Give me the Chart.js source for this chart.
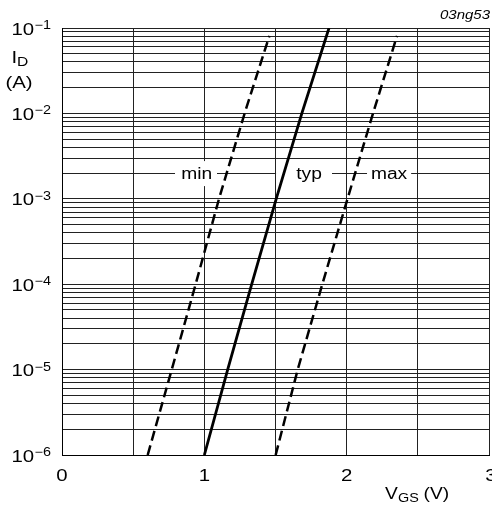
<!DOCTYPE html>
<html lang="en">
<head>
  <meta charset="UTF-8">
  <title>ID vs VGS</title>
  <script src="https://cdn.jsdelivr.net/npm/chart.js"></script>
  <style>
    html, body { margin: 0; padding: 0; background: #fff; }
    #wrap { width: 492px; height: 506px; position: relative; }
  </style>
</head>
<body>
  <div id="wrap"><canvas id="chart"></canvas></div>

  <script>
    // drain current, one point per decade (A)
    const idTyp = [1e-6, 1e-5, 1e-4, 1e-3, 1e-2, 1e-1];
    const idMinMax = [1e-6, 1e-5, 1e-4, 1e-3, 1e-2, 0.081];
    // gate-source voltage at those currents (V)
    const vgsMin = [0.602, 0.771, 0.939, 1.103, 1.283, 1.457];
    const vgsTyp = [1.0, 1.164, 1.333, 1.505, 1.685, 1.876];
    const vgsMax = [1.501, 1.656, 1.829, 2.006, 2.185, 2.354];

    const xTickLabels = [0, 1, 2, 3];
    const xGridStep = 0.5;
    const yExponents = [-6, -5, -4, -3, -2, -1];
    const curveNames = ['min', 'typ', 'max'];

    const FONT = 'Arial, "Liberation Sans", sans-serif';
    const SX = 1.2; // the original lettering is a bit wide

    function pts(xs, ys) {
      return xs.map((x, i) => ({ x: x, y: ys[i] }));
    }

    // grid: 1..9 per decade
    const yGrid = [];
    yExponents.forEach(e => {
      for (let m = 1; m <= 9; m++) {
        if (e === yExponents[yExponents.length - 1] && m > 1) break;
        yGrid.push(m * Math.pow(10, e));
      }
    });

    // curve labels sit on the 2e-3 line, boxes given in volts
    const curveLabels = [
      { text: curveNames[0], x: 0.947, from: 0.794, to: 1.089 },
      { text: curveNames[1], x: 1.736, from: 1.504, to: 1.897 },
      { text: curveNames[2], x: 2.298, from: 2.143, to: 2.453 }
    ];
    const labelY = 2e-3;

    function txt(ctx, s, x, y, size, align, style, sx) {
      ctx.save();
      ctx.font = (style || '') + ' ' + size + 'px ' + FONT;
      ctx.textAlign = align || 'left';
      ctx.textBaseline = 'alphabetic';
      ctx.fillStyle = '#000';
      ctx.translate(x, y);
      ctx.scale(sx || SX, 1);
      ctx.fillText(s, 0, 0);
      ctx.restore();
    }
    function width(ctx, s, size) {
      ctx.font = size + 'px ' + FONT;
      return ctx.measureText(s).width * SX;
    }

    const labelBoxes = {
      id: 'labelBoxes',
      beforeDatasetsDraw(chart) {
        const ctx = chart.ctx, xs = chart.scales.x, ys = chart.scales.y;
        const yc = ys.getPixelForValue(labelY);
        curveLabels.forEach(l => {
          const x0 = xs.getPixelForValue(l.from), x1 = xs.getPixelForValue(l.to);
          ctx.fillStyle = '#fff';
          ctx.fillRect(x0, yc - 12, x1 - x0, 25);
          txt(ctx, l.text, xs.getPixelForValue(l.x), yc + 5.5, 16, 'center');
        });
      },
      afterDraw(chart) {
        const ctx = chart.ctx, xs = chart.scales.x, ys = chart.scales.y;
        // y tick labels 10^n
        yExponents.forEach(e => {
          const y = ys.getPixelForValue(Math.pow(10, e));
          const sup = '\u2212' + Math.abs(e);
          const ws = width(ctx, sup, 12);
          const right = 51;
          txt(ctx, sup, right - ws, y + 1, 12, 'left');
          txt(ctx, '10', right - ws - 0.5, y + 6.5, 17, 'right');
        });
        // x tick labels
        xTickLabels.forEach(v => {
          let x = xs.getPixelForValue(v);
          if (v === 3) x += 2;
          txt(ctx, String(v), x, 480.5, 17, 'center');
        });
        // axis titles
        txt(ctx, 'I', 11.5, 63, 17, 'left');
        txt(ctx, 'D', 17, 65.5, 13, 'left');
        txt(ctx, '(A)', 19, 87.5, 17, 'center');
        txt(ctx, 'V', 385, 498.5, 16, 'left');
        txt(ctx, 'GS', 398, 501.5, 12, 'left');
        txt(ctx, '(V)', 423.5, 498.5, 16, 'left');
        txt(ctx, '03ng53', 490, 18.5, 12, 'right', 'italic', 1.25);
      }
    };

    const common = { borderColor: '#000', pointRadius: 0, tension: 0, fill: false, borderCapStyle: 'butt' };

    new Chart(document.getElementById('chart').getContext('2d'), {
      type: 'line',
      data: {
        datasets: [
          Object.assign({ label: curveNames[0], data: pts(vgsMin, idMinMax), borderWidth: 2.5, borderDash: [10, 5] }, common),
          Object.assign({ label: curveNames[1], data: pts(vgsTyp, idTyp), borderWidth: 2.8 }, common),
          Object.assign({ label: curveNames[2], data: pts(vgsMax, idMinMax), borderWidth: 2.5, borderDash: [10, 5] }, common)
        ]
      },
      options: {
        responsive: true,
        maintainAspectRatio: false,
        animation: false,
        layout: { padding: { left: 62, right: 3, top: 28, bottom: 51 } },
        plugins: { legend: { display: false }, tooltip: { enabled: false } },
        scales: {
          x: {
            type: 'linear', min: 0, max: 3,
            ticks: { display: false, stepSize: xGridStep },
            grid: { color: '#222', lineWidth: 1, drawTicks: false },
            border: { display: true, color: '#000', width: 1 }
          },
          y: {
            type: 'logarithmic', min: 1e-6, max: 1e-1,
            afterBuildTicks: s => { s.ticks = yGrid.map(v => ({ value: v })); },
            ticks: { display: false },
            grid: { color: '#222', lineWidth: 1, drawTicks: false },
            border: { display: true, color: '#000', width: 1 }
          }
        }
      },
      plugins: [labelBoxes]
    });
  </script>
</body>
</html>
